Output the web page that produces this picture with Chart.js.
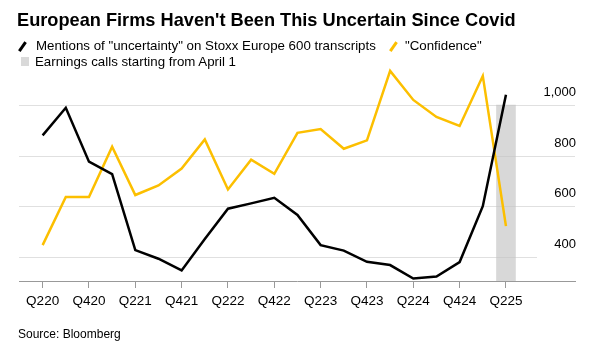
<!DOCTYPE html>
<html>
<head>
<meta charset="utf-8">
<script src="https://cdn.jsdelivr.net/npm/chart.js@4.4.1/dist/chart.umd.min.js"></script>
<style>
  body { margin: 0; background: #fff; }
  #wrap { position: relative; width: 597px; height: 348px; font-family: "Liberation Sans", Arial, sans-serif; color: #000; }
  #wrap canvas { position: absolute; left: 0; top: 0; }
  .txt { position: absolute; white-space: nowrap; }
  #title { left: 17px; top: 10px; font-size: 18.2px; font-weight: bold; line-height: 20px; }
  .leg { font-size: 13.3px; line-height: 15px; }
  .mark { position: absolute; width: 2.5px; height: 11px; transform: rotate(35deg); }
  #source { left: 18px; top: 327px; font-size: 12px; line-height: 14px; }
</style>
</head>
<body>
<div id="wrap">
  <canvas id="chart" width="597" height="348"></canvas>
  <div class="txt" id="title">European Firms Haven't Been This Uncertain Since Covid</div>
  <span class="mark" style="left:21px; top:41px; background:#000;"></span>
  <div class="txt leg" style="left:36px; top:38px;">Mentions of "uncertainty" on Stoxx Europe 600 transcripts</div>
  <span class="mark" style="left:392px; top:41px; background:#fcbf00;"></span>
  <div class="txt leg" style="left:405px; top:38px;">"Confidence"</div>
  <span style="position:absolute; left:21px; top:57px; width:8px; height:9px; background:#d9d9d9;"></span>
  <div class="txt leg" style="left:35px; top:54px;">Earnings calls starting from April 1</div>
  <div class="txt" id="source">Source: Bloomberg</div>
</div>
<script>
// quarters on the x axis
let quarters = ['Q220', 'Q320', 'Q420', 'Q121', 'Q221', 'Q321', 'Q421', 'Q122', 'Q222', 'Q322', 'Q422',
    'Q123', 'Q223', 'Q323', 'Q423', 'Q124', 'Q224', 'Q324', 'Q424', 'Q125', 'Q225']

// mentions per quarter
let uncertainty = [880, 989, 776, 727, 426, 392, 346, 470, 590, 611, 633, 565, 446, 424, 380, 367, 314, 322, 379, 600, 1041]
let confidence = [446, 636, 636, 835, 644, 682, 749, 864, 666, 784, 728, 890, 905, 827, 860, 1135, 1020, 953, 917, 1115, 521]

// grey band for calls from April 1
let earningsQuarter = 'Q225'
let earningsValue = 1000

// tick labels
let xTickLabels = ['Q220', 'Q420', 'Q221', 'Q421', 'Q222', 'Q422', 'Q223', 'Q423', 'Q224', 'Q424', 'Q225']
let yTicks = [400, 600, 800, 1000]

let toPoints = function (values) {
    return values.map(function (v, i) { return {x: i, y: v} })
}

// light gridlines under the lines, the 400 one stops short of its label
let gridPlugin = {
    id: 'bbgGrid',
    beforeDatasetsDraw: function (chart) {
        let ctx = chart.ctx
        let area = chart.chartArea
        let y = chart.scales.y
        ctx.save()
        ctx.strokeStyle = '#e0e0e0'
        ctx.lineWidth = 1
        yTicks.forEach(function (t) {
            let py = Math.round(y.getPixelForValue(t)) + 0.5
            let right = t === yTicks[0] ? area.right - 38 : area.right
            ctx.beginPath()
            ctx.moveTo(area.left, py)
            ctx.lineTo(right, py)
            ctx.stroke()
        })
        ctx.restore()
    }
}

let ctx = document.getElementById('chart').getContext('2d')

let chart = new Chart(ctx, {
    type: 'line',
    data: {
        datasets: [
            {
                label: '"Confidence"',
                data: toPoints(confidence),
                borderColor: '#fcbf00',
                borderWidth: 2.5,
                pointRadius: 0,
                tension: 0,
                clip: false,
                order: 2
            },
            {
                label: 'Mentions of "uncertainty" on Stoxx Europe 600 transcripts',
                data: toPoints(uncertainty),
                borderColor: '#000',
                borderWidth: 2.5,
                pointRadius: 0,
                tension: 0,
                clip: false,
                order: 1
            },
            {
                type: 'bar',
                label: 'Earnings calls starting from April 1',
                data: [{x: quarters.indexOf(earningsQuarter), y: earningsValue}],
                backgroundColor: 'rgba(195,195,195,0.65)',
                barThickness: 19,
                grouped: false,
                order: 3
            }
        ]
    },
    options: {
        responsive: false,
        animation: false,
        layout: {padding: {left: 19, right: 22, top: 69.6, bottom: 37}},
        plugins: {legend: {display: false}, tooltip: {enabled: false}},
        scales: {
            x: {
                type: 'linear',
                offset: false,
                min: -1.02,
                max: 22.98,
                afterFit: function (scale) { scale.height = 30 },
                afterBuildTicks: function (scale) {
                    scale.ticks = xTickLabels.map(function (q) { return {value: quarters.indexOf(q)} })
                },
                ticks: {
                    autoSkip: false,
                    maxRotation: 0,
                    padding: 5,
                    color: '#000',
                    font: {family: 'Liberation Sans', size: 13.5},
                    callback: function (value) { return quarters[value] }
                },
                grid: {offset: false, drawOnChartArea: false, drawTicks: true, tickLength: 7, color: '#999'},
                border: {display: true, color: '#999', width: 1}
            },
            y: {
                type: 'linear',
                position: 'right',
                min: 304,
                max: 1140,
                afterFit: function (scale) { scale.width = 0 },
                afterBuildTicks: function (scale) {
                    scale.ticks = yTicks.map(function (v) { return {value: v} })
                },
                ticks: {
                    mirror: true,
                    padding: 1,
                    labelOffset: -12.5,
                    color: '#000',
                    font: {family: 'Liberation Sans', size: 13},
                    callback: function (value) { return value.toLocaleString('en-US') }
                },
                grid: {display: false},
                border: {display: false}
            }
        }
    },
    plugins: [gridPlugin]
})
</script>
</body>
</html>
